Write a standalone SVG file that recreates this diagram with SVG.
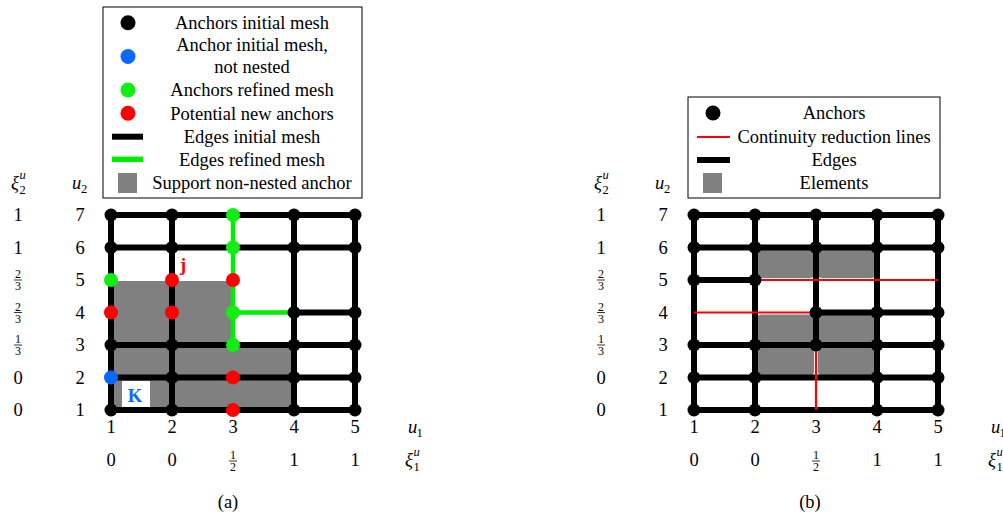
<svg xmlns="http://www.w3.org/2000/svg" width="1003" height="516" viewBox="0 0 1003 516" font-family="'Liberation Serif', 'Times New Roman', 'DejaVu Serif', serif">
<style>
text{font-family:'Liberation Serif','Times New Roman','DejaVu Serif',serif;font-size:18.5px;fill:#000}
.c{text-anchor:middle}
.it{font-style:italic}
.sm{font-size:12.5px}
.fr{font-size:12px;text-anchor:middle}
.bar{stroke:#000;stroke-width:0.8}
.e{stroke:#000;stroke-width:6;fill:none}
.g{stroke:#00ee00;stroke-width:4.5;fill:none}
.r{stroke:#ff0000;stroke-width:2.2;fill:none}
.cell{fill:#808080}
.nb{fill:#000}
.ng{fill:#11ee11}
.nr{fill:#ff0000}
.nbl{fill:#0a68ff}
.lg{fill:#fff;stroke:#000;stroke-width:1}
</style>

<!-- ===== Panel (a) ===== -->
<g id="a-legend">
  <rect class="lg" x="103" y="7" width="259" height="191"/>
  <circle class="nb" cx="128" cy="22.7" r="7.5"/>
  <text class="c" x="252" y="29">Anchors initial mesh</text>
  <circle class="nbl" cx="128" cy="56.5" r="7.5"/>
  <text class="c" x="252" y="51">Anchor initial mesh,</text>
  <text class="c" x="252" y="73">not nested</text>
  <circle class="ng" cx="128" cy="90" r="7.5"/>
  <text class="c" x="252" y="96">Anchors refined mesh</text>
  <circle class="nr" cx="128" cy="113.3" r="7.5"/>
  <text class="c" x="252" y="119.5">Potential new anchors</text>
  <line class="e" x1="112" y1="136.7" x2="143" y2="136.7"/>
  <text class="c" x="252" y="143">Edges initial mesh</text>
  <line class="g" x1="112" y1="159.3" x2="143" y2="159.3" style="stroke-width:5.5"/>
  <text class="c" x="252" y="165.5">Edges refined mesh</text>
  <rect class="cell" x="118" y="173" width="19" height="20"/>
  <text class="c" x="252" y="189">Support non-nested anchor</text>
</g>

<g id="a-support">
  <rect class="cell" x="112" y="281" width="59" height="63" rx="4"/>
  <rect class="cell" x="173" y="281" width="59" height="63" rx="4"/>
  <rect class="cell" x="112" y="346" width="59" height="30.5" rx="4"/>
  <rect class="cell" x="173" y="346" width="120" height="30.5" rx="4"/>
  <rect class="cell" x="112" y="378.5" width="59" height="30.5" rx="4"/>
  <rect class="cell" x="173" y="378.5" width="120" height="30.5" rx="4"/>
  <rect x="122" y="381" width="28" height="29" fill="#fff"/>
</g>

<g id="a-edges">
  <path class="e" d="M111 215H355M111 247.5H355M294 312.5H355M111 345H355M111 377.5H355M111 410H355M111 215V410M172 215V410M294 215V410M355 215V410"/>
  <path class="g" d="M233 215V345M233 312.5H294"/>
</g>

<g id="a-anchors">
  <circle id="a-1-7" class="nb" cx="111" cy="215" r="6.5"/>
  <circle id="a-2-7" class="nb" cx="172" cy="215" r="6.5"/>
  <circle id="a-3-7" class="ng" cx="233" cy="215" r="7"/>
  <circle id="a-4-7" class="nb" cx="294" cy="215" r="6.5"/>
  <circle id="a-5-7" class="nb" cx="355" cy="215" r="6.5"/>
  <circle id="a-1-6" class="nb" cx="111" cy="247.5" r="6.5"/>
  <circle id="a-2-6" class="nb" cx="172" cy="247.5" r="6.5"/>
  <circle id="a-3-6" class="ng" cx="233" cy="247.5" r="7"/>
  <circle id="a-4-6" class="nb" cx="294" cy="247.5" r="6.5"/>
  <circle id="a-5-6" class="nb" cx="355" cy="247.5" r="6.5"/>
  <circle id="a-1-5" class="ng" cx="111" cy="280" r="7"/>
  <circle id="a-2-5" class="nr" cx="172" cy="280" r="7"/>
  <circle id="a-3-5" class="nr" cx="233" cy="280" r="7"/>
  <circle id="a-1-4" class="nr" cx="111" cy="312.5" r="7"/>
  <circle id="a-2-4" class="nr" cx="172" cy="312.5" r="7"/>
  <circle id="a-3-4" class="ng" cx="233" cy="312.5" r="7"/>
  <circle id="a-4-4" class="nb" cx="294" cy="312.5" r="6.5"/>
  <circle id="a-5-4" class="nb" cx="355" cy="312.5" r="6.5"/>
  <circle id="a-1-3" class="nb" cx="111" cy="345" r="6.5"/>
  <circle id="a-2-3" class="nb" cx="172" cy="345" r="6.5"/>
  <circle id="a-3-3" class="ng" cx="233" cy="345" r="7"/>
  <circle id="a-4-3" class="nb" cx="294" cy="345" r="6.5"/>
  <circle id="a-5-3" class="nb" cx="355" cy="345" r="6.5"/>
  <circle id="a-1-2" class="nbl" cx="111" cy="377.5" r="7"/>
  <circle id="a-2-2" class="nb" cx="172" cy="377.5" r="6.5"/>
  <circle id="a-3-2" class="nr" cx="233" cy="377.5" r="7"/>
  <circle id="a-4-2" class="nb" cx="294" cy="377.5" r="6.5"/>
  <circle id="a-5-2" class="nb" cx="355" cy="377.5" r="6.5"/>
  <circle id="a-1-1" class="nb" cx="111" cy="410" r="6.5"/>
  <circle id="a-2-1" class="nb" cx="172" cy="410" r="6.5"/>
  <circle id="a-3-1" class="nr" cx="233" cy="410" r="7"/>
  <circle id="a-4-1" class="nb" cx="294" cy="410" r="6.5"/>
  <circle id="a-5-1" class="nb" cx="355" cy="410" r="6.5"/>
  <text x="183" y="271" class="c" style="fill:#ff0000;font-weight:bold">j</text>
  <text x="135" y="402" class="c" style="fill:#0a68ff;font-weight:bold">K</text>
</g>

<g id="a-axes">
  <text class="it" x="11" y="189">ξ</text>
  <text class="it sm" x="19.5" y="179">u</text>
  <text class="sm" x="19.5" y="194">2</text>
  <text class="it" x="72" y="189">u</text>
  <text class="sm" x="81" y="193">2</text>
  <g class="c">
    <text x="80" y="221">7</text><text x="80" y="253.5">6</text><text x="80" y="286">5</text><text x="80" y="318.5">4</text><text x="80" y="351">3</text><text x="80" y="383.5">2</text><text x="80" y="416">1</text>
    <text x="18" y="221">1</text><text x="18" y="253.5">1</text><text x="18" y="383.5">0</text><text x="18" y="416">0</text>
  </g>
  <text class="fr" x="18" y="278">2</text><line class="bar" x1="14" x2="22" y1="280" y2="280"/><text class="fr" x="18" y="290">3</text>
  <text class="fr" x="18" y="310.5">2</text><line class="bar" x1="14" x2="22" y1="312.5" y2="312.5"/><text class="fr" x="18" y="322.5">3</text>
  <text class="fr" x="18" y="343">1</text><line class="bar" x1="14" x2="22" y1="345" y2="345"/><text class="fr" x="18" y="355">3</text>
  <g class="c">
    <text x="111" y="433">1</text><text x="172" y="433">2</text><text x="233" y="433">3</text><text x="294" y="433">4</text><text x="355" y="433">5</text>
    <text x="111" y="466">0</text><text x="172" y="466">0</text><text x="294" y="466">1</text><text x="355" y="466">1</text>
  </g>
  <text class="fr" x="233" y="459">1</text><line class="bar" x1="229" x2="237" y1="461" y2="461"/><text class="fr" x="233" y="471">2</text>
  <text class="it" x="408" y="433">u</text>
  <text class="sm" x="416.5" y="437">1</text>
  <text class="it" x="405" y="466">ξ</text>
  <text class="it sm" x="413.5" y="456">u</text>
  <text class="sm" x="413.5" y="471">1</text>
  <text class="c" x="228" y="508">(a)</text>
</g>

<!-- ===== Panel (b) ===== -->
<g id="b-legend">
  <rect class="lg" x="688" y="97" width="252" height="101"/>
  <circle class="nb" cx="713" cy="113" r="7.5"/>
  <text class="c" x="834" y="119">Anchors</text>
  <line class="r" x1="697" y1="137" x2="730" y2="137"/>
  <text class="c" x="834" y="143">Continuity reduction lines</text>
  <line class="e" x1="697" y1="160" x2="730" y2="160"/>
  <text class="c" x="834" y="166">Edges</text>
  <rect class="cell" x="703" y="173" width="19" height="20"/>
  <text class="c" x="834" y="189">Elements</text>
</g>

<g id="b-elements">
  <rect class="cell" x="757" y="249.5" width="57" height="28.5" rx="4"/>
  <rect class="cell" x="818" y="249.5" width="57" height="28.5" rx="4"/>
  <rect class="cell" x="757" y="314.5" width="57" height="28.5" rx="4"/>
  <rect class="cell" x="818" y="314.5" width="57" height="28.5" rx="4"/>
  <rect class="cell" x="757" y="347" width="57" height="28.5" rx="4"/>
  <rect class="cell" x="818" y="347" width="57" height="28.5" rx="4"/>
</g>

<g id="b-edges">
  <path class="e" d="M694 215H938M694 247.5H938M694 280H755M816 312.5H938M694 345H938M694 377.5H938M694 410H938M694 215V410M755 215V410M816 215V345M877 215V410M938 215V410"/>
  <path class="r" d="M758 280H938M694 312.5H813M816 348V410"/>
</g>

<g id="b-anchors" class="nb">
  <circle id="b-1-7" cx="694" cy="215" r="6.5"/>
  <circle id="b-2-7" cx="755" cy="215" r="6.5"/>
  <circle id="b-3-7" cx="816" cy="215" r="6.5"/>
  <circle id="b-4-7" cx="877" cy="215" r="6.5"/>
  <circle id="b-5-7" cx="938" cy="215" r="6.5"/>
  <circle id="b-1-6" cx="694" cy="247.5" r="6.5"/>
  <circle id="b-2-6" cx="755" cy="247.5" r="6.5"/>
  <circle id="b-3-6" cx="816" cy="247.5" r="6.5"/>
  <circle id="b-4-6" cx="877" cy="247.5" r="6.5"/>
  <circle id="b-5-6" cx="938" cy="247.5" r="6.5"/>
  <circle id="b-1-5" cx="694" cy="280" r="6.5"/>
  <circle id="b-2-5" cx="755" cy="280" r="6.5"/>
  <circle id="b-3-4" cx="816" cy="312.5" r="6.5"/>
  <circle id="b-4-4" cx="877" cy="312.5" r="6.5"/>
  <circle id="b-5-4" cx="938" cy="312.5" r="6.5"/>
  <circle id="b-1-3" cx="694" cy="345" r="6.5"/>
  <circle id="b-2-3" cx="755" cy="345" r="6.5"/>
  <circle id="b-3-3" cx="816" cy="345" r="6.5"/>
  <circle id="b-4-3" cx="877" cy="345" r="6.5"/>
  <circle id="b-5-3" cx="938" cy="345" r="6.5"/>
  <circle id="b-1-2" cx="694" cy="377.5" r="6.5"/>
  <circle id="b-2-2" cx="755" cy="377.5" r="6.5"/>
  <circle id="b-4-2" cx="877" cy="377.5" r="6.5"/>
  <circle id="b-5-2" cx="938" cy="377.5" r="6.5"/>
  <circle id="b-1-1" cx="694" cy="410" r="6.5"/>
  <circle id="b-2-1" cx="755" cy="410" r="6.5"/>
  <circle id="b-4-1" cx="877" cy="410" r="6.5"/>
  <circle id="b-5-1" cx="938" cy="410" r="6.5"/>
</g>

<g id="b-axes" transform="translate(583 0)">
  <text class="it" x="11" y="189">ξ</text>
  <text class="it sm" x="19.5" y="179">u</text>
  <text class="sm" x="19.5" y="194">2</text>
  <text class="it" x="72" y="189">u</text>
  <text class="sm" x="81" y="193">2</text>
  <g class="c">
    <text x="80" y="221">7</text><text x="80" y="253.5">6</text><text x="80" y="286">5</text><text x="80" y="318.5">4</text><text x="80" y="351">3</text><text x="80" y="383.5">2</text><text x="80" y="416">1</text>
    <text x="18" y="221">1</text><text x="18" y="253.5">1</text><text x="18" y="383.5">0</text><text x="18" y="416">0</text>
  </g>
  <text class="fr" x="18" y="278">2</text><line class="bar" x1="14" x2="22" y1="280" y2="280"/><text class="fr" x="18" y="290">3</text>
  <text class="fr" x="18" y="310.5">2</text><line class="bar" x1="14" x2="22" y1="312.5" y2="312.5"/><text class="fr" x="18" y="322.5">3</text>
  <text class="fr" x="18" y="343">1</text><line class="bar" x1="14" x2="22" y1="345" y2="345"/><text class="fr" x="18" y="355">3</text>
  <g class="c">
    <text x="111" y="433">1</text><text x="172" y="433">2</text><text x="233" y="433">3</text><text x="294" y="433">4</text><text x="355" y="433">5</text>
    <text x="111" y="466">0</text><text x="172" y="466">0</text><text x="294" y="466">1</text><text x="355" y="466">1</text>
  </g>
  <text class="fr" x="233" y="459">1</text><line class="bar" x1="229" x2="237" y1="461" y2="461"/><text class="fr" x="233" y="471">2</text>
  <text class="it" x="408" y="433">u</text>
  <text class="sm" x="416.5" y="437">1</text>
  <text class="it" x="405" y="466">ξ</text>
  <text class="it sm" x="413.5" y="456">u</text>
  <text class="sm" x="413.5" y="471">1</text>
  <text class="c" x="227" y="508">(b)</text>
</g>
</svg>
